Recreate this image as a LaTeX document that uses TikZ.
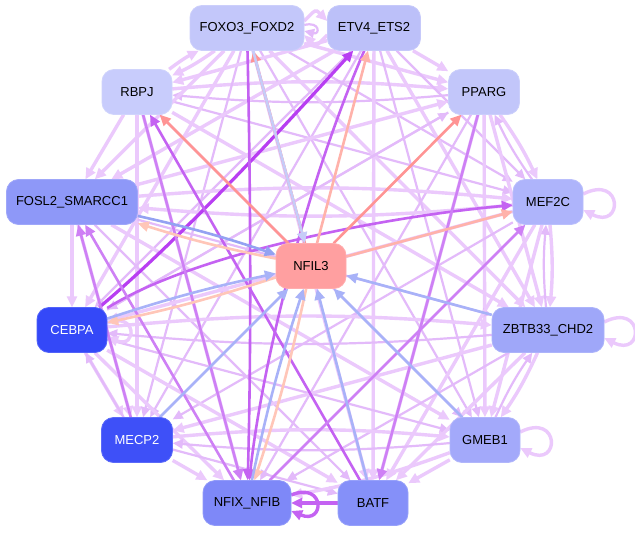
\documentclass[tikz,border=0pt]{standalone}
\usepackage{fontspec}
\setmainfont{Liberation Sans}
\usetikzlibrary{arrows.meta}
\definecolor{lav}{HTML}{EBC9FC}
\definecolor{lavd}{HTML}{E3BAFA}
\definecolor{purA}{HTML}{B83EF2}
\definecolor{purB}{HTML}{C462F2}
\definecolor{purC}{HTML}{CE80F5}
\definecolor{salA}{HTML}{FF9494}
\definecolor{salB}{HTML}{FFB2AA}
\definecolor{salC}{HTML}{FFC6B8}
\definecolor{bluA}{HTML}{94A2F2}
\definecolor{bluB}{HTML}{A8B2F8}
\definecolor{bluC}{HTML}{C6CCF8}
\definecolor{cF}{HTML}{C3C7FA}
\definecolor{cE}{HTML}{BCC0F9}
\definecolor{cR}{HTML}{C8CCFC}
\definecolor{cP}{HTML}{C2C6FA}
\definecolor{cS}{HTML}{8E98F8}
\definecolor{cM}{HTML}{AEB4FB}
\definecolor{cX}{HTML}{FF9FA0}
\definecolor{cC}{HTML}{3448F8}
\definecolor{cZ}{HTML}{9FA7F9}
\definecolor{cQ}{HTML}{3E50F8}
\definecolor{cG}{HTML}{A3A9FA}
\definecolor{cN}{HTML}{7E88F8}
\definecolor{cB}{HTML}{8590F9}
\tikzset{
  tf/.style={rounded corners=12pt, minimum height=45pt, inner sep=0pt,
    font=\fontsize{13}{15}\selectfont, fill=#1, draw=#1!85!white, line width=0.8pt},
  la/.style={draw=lav, line width=3.4pt, -{Triangle[length=11pt,width=10pt,fill=lav]}},
  lb/.style={draw=lavd, line width=2.2pt, -{Triangle[length=10pt,width=9pt,fill=lavd]}},
  ce/.style={draw=#1, line width=2.6pt, -{Triangle[length=11pt,width=10pt,fill=#1]}},
}
\newcommand\ed[3]{\draw[#1] (#2) to (#3);}
\newcommand\eb[3]{\draw[#1] (#2) to[bend left=5] (#3);}
\begin{document}
\begin{tikzpicture}[x=1pt,y=-1pt]
\useasboundingbox[fill=white] (0,0) rectangle (635,533);
\path
 (247,28) coordinate (pF) (374,28) coordinate (pE) (137,92) coordinate (pR)
 (484,92) coordinate (pP) (72,202) coordinate (pS) (548,202) coordinate (pM)
 (311,266) coordinate (pX) (72,330) coordinate (pC) (548,330) coordinate (pZ)
 (137,440) coordinate (pQ) (485,440) coordinate (pG) (247,503) coordinate (pN)
 (373,503) coordinate (pB);
\begin{scope}[every node/.style={minimum height=45pt, inner sep=0pt}]
\node[minimum width=114pt] (F) at (pF) {};
\node[minimum width=93pt] (E) at (pE) {};
\node[minimum width=70pt] (R) at (pR) {};
\node[minimum width=71pt] (P) at (pP) {};
\node[minimum width=131pt] (S) at (pS) {};
\node[minimum width=70pt] (M) at (pM) {};
\node[minimum width=70pt] (X) at (pX) {};
\node[minimum width=70pt] (C) at (pC) {};
\node[minimum width=112pt] (Z) at (pZ) {};
\node[minimum width=71pt] (Q) at (pQ) {};
\node[minimum width=70pt] (G) at (pG) {};
\node[minimum width=88pt] (N) at (pN) {};
\node[minimum width=70pt] (B) at (pB) {};
\end{scope}
% ---------- lavender edges ----------
\eb{la}{R}{F} \eb{la}{F}{R}
\eb{la}{R}{P} \eb{lb}{P}{R}
\ed{la}{R}{S} \ed{lb}{R}{M} \ed{la}{R}{Z} \ed{lb}{R}{G} \ed{la}{R}{Q}
\ed{la}{F}{P} \ed{la}{F}{S} \ed{lb}{F}{M} \ed{la}{F}{Z} \ed{lb}{F}{G}
\ed{la}{F}{B} \ed{lb}{F}{Q} \ed{la}{F}{C}
\ed{la}{E}{P} \ed{la}{E}{R} \ed{la}{E}{S} \ed{lb}{E}{M} \ed{la}{E}{Z}
\ed{lb}{E}{G} \ed{la}{E}{B} \ed{lb}{E}{C} \ed{lb}{E}{Q}
\eb{la}{P}{M} \eb{lb}{M}{P} \ed{la}{P}{Z} \ed{la}{P}{G} \ed{la}{P}{B}
\ed{lb}{P}{N} \ed{la}{S}{P} \ed{lb}{P}{C}
\eb{la}{S}{M} \eb{la}{M}{S} \ed{la}{S}{C} \ed{lb}{S}{Z} \ed{la}{S}{G}
\ed{lb}{S}{B} \ed{la}{S}{Q}
\eb{la}{M}{Z} \eb{lb}{Z}{M} \ed{la}{M}{G} \ed{la}{M}{B} \ed{la}{M}{C} \ed{lb}{M}{Q}
\eb{la}{C}{Z} \eb{lb}{Z}{C} \ed{la}{C}{Q} \ed{lb}{Q}{C} \ed{la}{C}{N} \ed{lb}{C}{G} \ed{la}{C}{B}
\eb{la}{Z}{G} \eb{lb}{G}{Z} \ed{la}{Z}{B} \ed{lb}{Z}{N} \ed{la}{Z}{Q}
\eb{la}{Q}{G} \eb{lb}{G}{Q} \ed{la}{Q}{N} \ed{lb}{Q}{B}
\eb{la}{G}{N} \ed{la}{G}{B}
\ed{la}{R}{N} \ed{lb}{C}{P}
% top pair with arcs
\draw[la] ([yshift=7pt]F.east) .. controls +(12,-12) and +(-12,-12) .. ([yshift=7pt]E.west);
\draw[la] ([yshift=-7pt]E.west) .. controls +(-12,12) and +(12,12) .. ([yshift=-7pt]F.east);
\draw[lb] ([yshift=3pt]F.east) .. controls +(16,-4) and +(16,4) .. ([yshift=-3pt]F.east);
% self loops
\draw[la] ([yshift=8pt]M.east) .. controls +(40,-20) and +(40,20) .. ([yshift=-8pt]M.east);
\draw[la] ([yshift=8pt]Z.east) .. controls +(40,-20) and +(40,20) .. ([yshift=-8pt]Z.east);
\draw[la] ([yshift=8pt]G.east) .. controls +(40,-20) and +(40,20) .. ([yshift=-8pt]G.east);
\draw[la] ([yshift=7pt]C.east) .. controls +(30,-12) and +(30,12) .. ([yshift=-7pt]C.east);
% ---------- purple edges ----------
\draw[ce=purA, line width=3.2pt] (C) .. controls (180,240) and (290,120) .. (E);
\draw[ce=purB] (C) .. controls (200,250) and (400,215) .. (M);
\draw[ce=purB] (B) -- (R);
\draw[ce=purB] (F) .. controls (252,250) and (250,400) .. (N);
\draw[ce=purB] (E) .. controls (300,200) and (260,380) .. (N);
\draw[ce=purC] (R) -- (N);
\draw[ce=purC] (N) -- (S);
\draw[ce=purC] (Q) -- (S);
\draw[ce=purC] (N) -- (M);
\draw[ce=purC] (P) -- (B);
\draw[ce=purB, line width=3.4pt] (B) -- (N);
\draw[ce=purB, line width=3.4pt] ([yshift=8pt]N.east) .. controls +(34,-14) and +(34,14) .. ([yshift=-8pt]N.east);
% ---------- NFIL3 edges ----------
\draw[ce=salA] (X) -- (R);
\draw[ce=salA] (X) -- (F);
\draw[ce=salB] (X) -- (E);
\draw[ce=salA] (X) -- (P);
\draw[ce=salB] (X) -- (M);
\draw[ce=salC] (X) to[bend left=3] (S);
\draw[ce=salC] (X) to[bend left=3] (C);
\draw[ce=salC] (X) to[bend left=3] (N);
\draw[ce=bluA] (S) to[bend left=3] (X);
\draw[ce=bluB] (C) to[bend left=3] (X);
\draw[ce=bluB] (N) to[bend left=3] (X);
\draw[ce=bluB] (Q) -- (X);
\draw[ce=bluB] (B) -- (X);
\draw[ce=bluB] (G) -- (X);
\draw[ce=bluB] (Z) -- (X);
\draw[ce=bluC] (F) -- (X);
% ---------- nodes ----------
\node[tf=cF, minimum width=114pt] at (pF) {FOXO3\_FOXD2};
\node[tf=cE, minimum width=93pt] at (pE) {ETV4\_ETS2};
\node[tf=cR, minimum width=70pt] at (pR) {RBPJ};
\node[tf=cP, minimum width=71pt] at (pP) {PPARG};
\node[tf=cS, minimum width=131pt] at (pS) {FOSL2\_SMARCC1};
\node[tf=cM, minimum width=70pt] at (pM) {MEF2C};
\node[tf=cX, minimum width=70pt] at (pX) {NFIL3};
\node[tf=cC, minimum width=70pt, text=white] at (pC) {CEBPA};
\node[tf=cZ, minimum width=112pt] at (pZ) {ZBTB33\_CHD2};
\node[tf=cQ, minimum width=71pt, text=white] at (pQ) {MECP2};
\node[tf=cG, minimum width=70pt] at (pG) {GMEB1};
\node[tf=cN, minimum width=88pt] at (pN) {NFIX\_NFIB};
\node[tf=cB, minimum width=70pt] at (pB) {BATF};
\end{tikzpicture}
\end{document}
